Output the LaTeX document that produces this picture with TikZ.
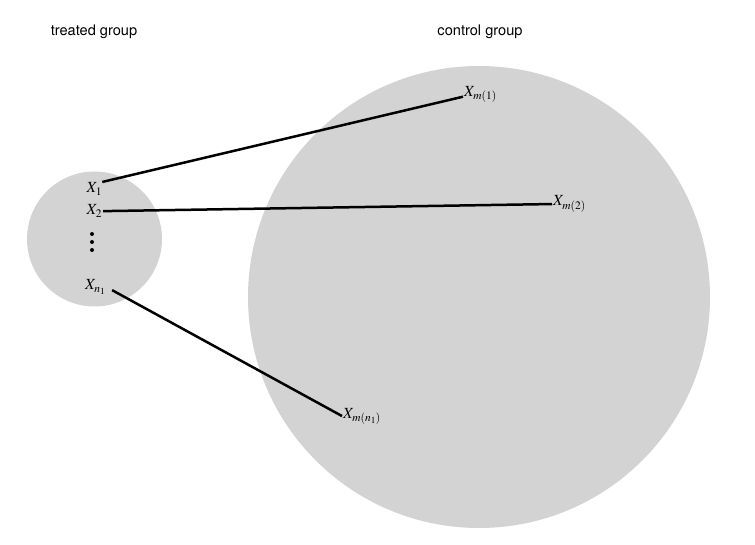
\documentclass[tikz,border=0pt]{standalone}
\usepackage{mathptmx}
\usepackage{fontspec}
\usepackage{tikz}

\newfontfamily\groupfont{TeX Gyre Heros}
\definecolor{groupgray}{RGB}{211,211,211}
\tikzset{
  group/.style={circle,fill=groupgray,inner sep=0pt},
  unit/.style={inner sep=1pt,anchor=base west,font=\fontsize{15.5}{18}\selectfont},
  title/.style={font=\groupfont\fontsize{14.6}{17}\selectfont},
  link/.style={line width=2.5pt},
  dot/.style={circle,fill=black,inner sep=0pt,minimum size=4pt}
}

\begin{document}
\begin{tikzpicture}[x=1pt,y=-1pt]
            \useasboundingbox (0,0) rectangle (755,545);
            \node[group,minimum size=135pt] at (94.5,239) (treated) {};
            \node[group,minimum size=462pt] at (479,297) (control) {};
            \node[title] at (94,32) (tlabel) {treated group};
            \node[title] at (480,32) (clabel) {control group};
            \node[unit] at (85.5,193) (x1) {$X_1$};
            \node[unit] at (85.5,215) (x2) {$X_2$};
            \node[dot] at (92,234) (d1) {};
            \node[dot] at (92,242) (d2) {};
            \node[dot] at (92,250) (d3) {};
            \node[unit] at (84,290) (xn) {$X_{n_1}$};
            \node[unit] at (463,96.7) (xm1) {$X_{m(1)}$};
            \node[unit] at (552,206) (xm2) {$X_{m(2)}$};
            \node[unit] at (342,418) (xmn) {$X_{m(n_1)}$};
            \draw[link,shorten <=-1pt] (x1.north east) -- (xm1.base west);
            \draw[link] (x2.east) -- (xm2.west);
            \draw[link,shorten <=6pt] (xn.east) -- (xmn.west);
\end{tikzpicture}
\end{document}
